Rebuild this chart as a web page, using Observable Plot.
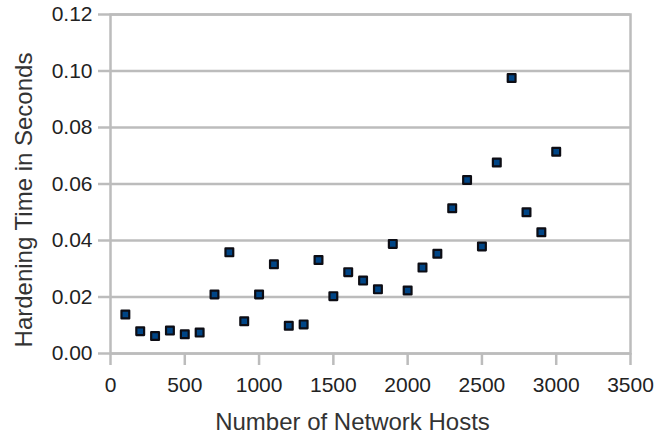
<!DOCTYPE html>
<html>
<head>
<meta charset="utf-8">
<script src="https://cdn.jsdelivr.net/npm/d3@7"></script>
<script src="https://cdn.jsdelivr.net/npm/@observablehq/plot@0.6"></script>
<style>
  html, body { margin: 0; padding: 0; background: #fff; }
</style>
</head>
<body>
<div id="chart"></div>
<script>
const hosts = [100, 200, 300, 400, 500, 600, 700, 800, 900, 1000,
               1100, 1200, 1300, 1400, 1500, 1600, 1700, 1800, 1900, 2000,
               2100, 2200, 2300, 2400, 2500, 2600, 2700, 2800, 2900, 3000];
const times = [0.0138, 0.0079, 0.0062, 0.0081, 0.0068, 0.0074, 0.0209, 0.0358, 0.0114, 0.0209,
               0.0316, 0.0098, 0.0103, 0.0331, 0.0203, 0.0288, 0.0258, 0.0227, 0.0388, 0.0223,
               0.0304, 0.0353, 0.0514, 0.0614, 0.0379, 0.0676, 0.0975, 0.0500, 0.0429, 0.0714];
const xTicks = [0, 500, 1000, 1500, 2000, 2500, 3000, 3500];
const yTicks = [0, 0.02, 0.04, 0.06, 0.08, 0.10, 0.12];
const xLabel = "Number of Network Hosts";
const yLabel = "Hardening Time in Seconds";

const data = hosts.map((h, i) => ({hosts: h, time: times[i]}));
const gridColor = "#bcbcbc";

const chart = Plot.plot({
  width: 670,
  height: 434,
  marginLeft: 110,
  marginRight: 40,
  marginTop: 14,
  marginBottom: 81,
  style: {fontFamily: "'Liberation Sans', Arial, sans-serif", fontSize: "21px", background: "#fff"},
  x: {domain: [0, 3500]},
  y: {domain: [0, 0.12]},
  marks: [
    Plot.gridY(yTicks, {stroke: gridColor, strokeWidth: 2.5, strokeOpacity: 1}),
    Plot.frame({stroke: gridColor, strokeWidth: 2.5}),
    Plot.axisY(yTicks, {tickSize: 12, tickPadding: 6, stroke: gridColor, strokeWidth: 2.5,
      fill: "#222", tickFormat: d3.format(".2f"), label: null}),
    Plot.axisX(xTicks, {tickSize: 12, tickPadding: 12, stroke: gridColor, strokeWidth: 2.5,
      fill: "#222", tickFormat: d3.format("d"), label: null}),
    Plot.dot(data, {x: "hosts", y: "time", symbol: "square", r: 4.4,
      fill: "#004586", stroke: "#0d0d14", strokeWidth: 2.2, strokeLinejoin: "round"}),
    Plot.text([xLabel], {frameAnchor: "bottom", lineAnchor: "bottom", textAnchor: "middle",
      dy: 76, dx: -18, fontSize: 24, fill: "#333", text: d => d}),
    Plot.text([yLabel], {frameAnchor: "left", textAnchor: "middle", lineAnchor: "middle",
      rotate: -90, dx: -86, dy: 16, fontSize: 24, fill: "#333", text: d => d})
  ]
});
document.getElementById("chart").appendChild(chart);
</script>
</body>
</html>
